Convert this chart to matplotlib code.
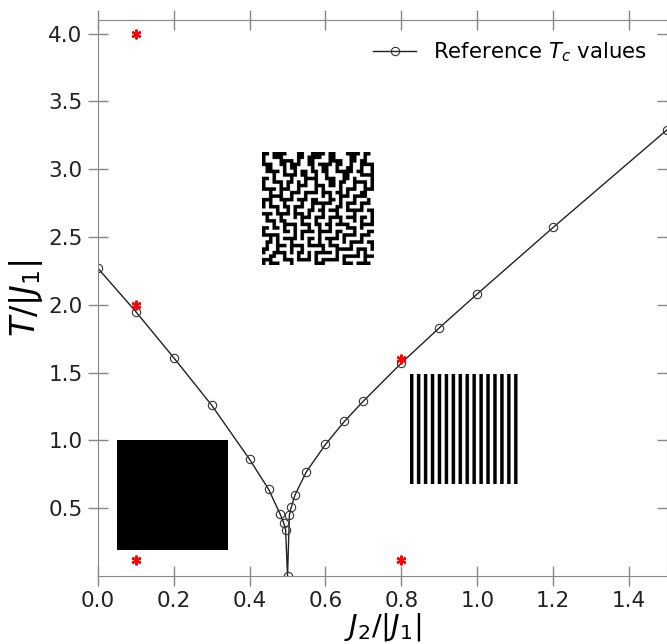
import numpy as np
import matplotlib
matplotlib.use("Agg")
import matplotlib.pyplot as plt

# reference critical temperatures along J2/|J1|
j2_ratio = [0.0, 0.1, 0.2, 0.3, 0.4, 0.45, 0.48, 0.49, 0.495, 0.5,
            0.505, 0.51, 0.52, 0.55, 0.6, 0.65, 0.7, 0.8, 0.9, 1.0, 1.2, 1.5]
tc_ref = [2.27, 1.95, 1.61, 1.26, 0.86, 0.64, 0.46, 0.39, 0.34, 0.0,
          0.45, 0.51, 0.60, 0.77, 0.97, 1.14, 1.29, 1.57, 1.83, 2.08, 2.57, 3.29]

# sampled (J2, T) points
sample_j2 = [0.1, 0.1, 0.8, 0.1, 0.8]
sample_t = [4.0, 2.0, 1.6, 0.12, 0.12]

# snapshot lattices (1 = spin up / black)
ferro = np.ones((32, 32))
stripe_row = [1, 0] * 16
stripe = np.array([stripe_row] * 32)
para_rows = [
    "11011110001100111101100011110110",
    "10011100001101111001100001100100",
    "10000111101001100001111001101100",
    "11100110111001101111011001001111",
    "01100010110000100110010011001001",
    "01111010010110110110011111011001",
    "00010011110110010010000110001111",
    "11010000100011110011100110100001",
    "10011101101010010001101100111101",
    "10000101001110011101101000100101",
    "11110111001000010100001011100111",
    "00100100111011110111011010001100",
    "00111100100010000101001110111100",
    "11100111101110110001101000100010",
    "10100010000100111111001011101110",
    "10111011011100100100011010001000",
    "00001001010001101101110011111011",
    "11101111011101000100010000100001",
    "01000100010111011101111011101101",
    "01110110000100010001001000101001",
    "00010011110111011011011110001111",
    "11011010010001001001000011101000",
    "10000011010111101111011000100011",
    "11111000010100001000010111101110",
    "00101011110101101011110100001000",
    "01101000100001001001000101111011",
    "01001110111101111101110001000001",
    "11001000100100000100011111011101",
    "10011110101101011111010000010100",
    "00110010001001010000010111110111",
    "11100011101111010111110100000100",
    "10111000100000011100000111011110",
]
para = np.array([[int(c) for c in r] for r in para_rows])


def blow_up(a, k=8):
    # repeat every spin into a k x k block so the image is downsampled, not upsampled
    return np.kron(a, np.ones((k, k)))


fig = plt.figure(figsize=(6.67, 6.44), dpi=100)
ax = fig.add_axes([0.1466, 0.1056, 0.8534, 0.8634])

ax.plot(j2_ratio, tc_ref, color="#222222", lw=1.0, marker="o", ms=6,
        mfc="none", mec="#333333", mew=0.8, label=r"Reference $T_c$ values")
ax.plot(sample_j2, sample_t, ls="none", marker=(6, 2, 0), ms=7,
        mec="red", mew=1.6)

img_kw = dict(cmap="binary", vmin=0, vmax=1, interpolation="antialiased", aspect="auto")
ax.imshow(blow_up(ferro), extent=[0.05, 0.34, 0.19, 1.0], **img_kw)
ax.imshow(blow_up(para), extent=[0.433, 0.728, 2.29, 3.12], **img_kw)
ax.imshow(blow_up(stripe), extent=[0.823, 1.115, 0.68, 1.49], **img_kw)

ax.set_xlim(0, 1.5)
ax.set_ylim(0, 4.1)
ax.set_xticks(np.arange(0, 1.41, 0.2))
ax.set_yticks(np.arange(0.5, 4.01, 0.5))

for s in ax.spines.values():
    s.set_color("#888888")
ax.tick_params(direction="inout", length=15, width=1, color="#888888",
               labelsize=15.5, top=True, right=True, labelcolor="#222222")

ax.set_xlabel(r"$J_2/|J_1|$", fontsize=21, labelpad=0)
ax.set_ylabel(r"$T/|J_1|$", fontsize=24, labelpad=2)

ax.legend(loc="upper right", frameon=False, fontsize=15.3, handlelength=2.0,
          borderaxespad=0.55)

fig.savefig("out.png", dpi=100)
